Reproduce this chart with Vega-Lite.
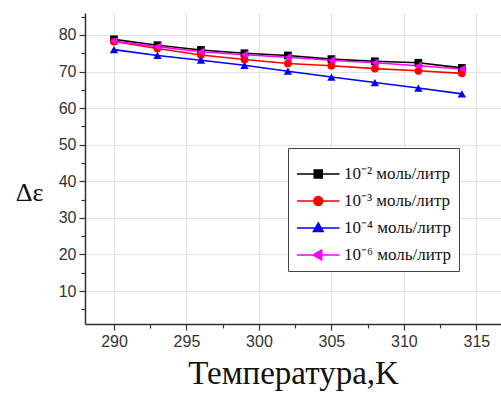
{
  "$schema": "https://vega.github.io/schema/vega-lite/v6.json",
  "width": 416,
  "height": 311,
  "autosize": "none",
  "padding": {"left": 85, "top": 13, "right": 0, "bottom": 72},
  "background": "white",
  "config": {
    "view": {"stroke": null},
    "axis": {"labelFont": "Liberation Sans", "labelFontSize": 16, "labelColor": "#333", "domainColor": "#333", "domainWidth": 1.5, "tickColor": "#333", "tickWidth": 1.2, "gridColor": "#e2e2e2", "gridWidth": 1}
  },
  "data": {"values": [
    {"T": 290, "c": "10⁻² моль/литр", "e": 78.8},
    {"T": 293, "c": "10⁻² моль/литр", "e": 77.2},
    {"T": 296, "c": "10⁻² моль/литр", "e": 75.9},
    {"T": 299, "c": "10⁻² моль/литр", "e": 75.0},
    {"T": 302, "c": "10⁻² моль/литр", "e": 74.4},
    {"T": 305, "c": "10⁻² моль/литр", "e": 73.4},
    {"T": 308, "c": "10⁻² моль/литр", "e": 72.8},
    {"T": 311, "c": "10⁻² моль/литр", "e": 72.4},
    {"T": 314, "c": "10⁻² моль/литр", "e": 71.0},
    {"T": 290, "c": "10⁻³ моль/литр", "e": 78.2},
    {"T": 293, "c": "10⁻³ моль/литр", "e": 76.3},
    {"T": 296, "c": "10⁻³ моль/литр", "e": 74.5},
    {"T": 299, "c": "10⁻³ моль/литр", "e": 73.3},
    {"T": 302, "c": "10⁻³ моль/литр", "e": 72.2},
    {"T": 305, "c": "10⁻³ моль/литр", "e": 71.6},
    {"T": 308, "c": "10⁻³ моль/литр", "e": 70.8},
    {"T": 311, "c": "10⁻³ моль/литр", "e": 70.2},
    {"T": 314, "c": "10⁻³ моль/литр", "e": 69.5},
    {"T": 290, "c": "10⁻⁴ моль/литр", "e": 76.0},
    {"T": 293, "c": "10⁻⁴ моль/литр", "e": 74.4},
    {"T": 296, "c": "10⁻⁴ моль/литр", "e": 73.1},
    {"T": 299, "c": "10⁻⁴ моль/литр", "e": 71.7},
    {"T": 302, "c": "10⁻⁴ моль/литр", "e": 70.1},
    {"T": 305, "c": "10⁻⁴ моль/литр", "e": 68.5},
    {"T": 308, "c": "10⁻⁴ моль/литр", "e": 67.0},
    {"T": 311, "c": "10⁻⁴ моль/литр", "e": 65.5},
    {"T": 314, "c": "10⁻⁴ моль/литр", "e": 63.9},
    {"T": 290, "c": "10⁻⁶ моль/литр", "e": 78.3},
    {"T": 293, "c": "10⁻⁶ моль/литр", "e": 76.8},
    {"T": 296, "c": "10⁻⁶ моль/литр", "e": 75.4},
    {"T": 299, "c": "10⁻⁶ моль/литр", "e": 74.6},
    {"T": 302, "c": "10⁻⁶ моль/литр", "e": 73.9},
    {"T": 305, "c": "10⁻⁶ моль/литр", "e": 73.1},
    {"T": 308, "c": "10⁻⁶ моль/литр", "e": 72.4},
    {"T": 311, "c": "10⁻⁶ моль/литр", "e": 71.6},
    {"T": 314, "c": "10⁻⁶ моль/литр", "e": 70.7}
  ]},
  "encoding": {
    "x": {"field": "T", "type": "quantitative", "scale": {"domain": [288, 316.7], "nice": false, "zero": false}, "axis": null},
    "y": {"field": "e", "type": "quantitative", "scale": {"domain": [1, 86], "nice": false, "zero": false}, "axis": null},
    "color": {
      "field": "c", "type": "nominal",
      "scale": {"domain": ["10⁻² моль/литр", "10⁻³ моль/литр", "10⁻⁴ моль/литр", "10⁻⁶ моль/литр"], "range": ["#000000", "#ff0000", "#0000ff", "#ff00ff"]},
      "legend": {
        "title": null, "orient": "none", "legendX": 203, "legendY": 135,
        "padding": 8, "strokeColor": "#444", "fillColor": "white",
        "labelFont": "Liberation Serif", "labelFontSize": 17, "labelColor": "#111", "labelOffset": 12,
        "symbolSize": 1156, "rowPadding": 1,
        "encode": {"symbols": {"update": {
          "shape": {"signal": "['M-1,0H1.5M0.015,-0.235H0.485V0.235H0.015Z','M-1,0H1.5M-0.015,0A0.265,0.265,0,1,1,0.515,0A0.265,0.265,0,1,1,-0.015,0Z','M-1,0H1.5M0.25,-0.3L0.54,0.2H-0.04Z','M-1,0H1.5M-0.05,0L0.45,-0.29V0.29Z'][indexof(domain('color'), datum.value)]"},
          "stroke": {"signal": "scale('color', datum.value)"},
          "fill": {"signal": "scale('color', datum.value)"},
          "strokeWidth": {"value": 1.5},
          "opacity": {"value": 1}
        }}}
      }
    }
  },
  "layer": [
    {
      "mark": {"type": "line", "strokeWidth": 1.6},
      "encoding": {
        "x": {"field": "T", "type": "quantitative",
          "axis": {"values": [290, 295, 300, 305, 310, 315], "title": "Температура,K", "titleFont": "Liberation Serif", "titleFontSize": 33, "titleFontWeight": "normal", "titleColor": "#111", "titleY": 59, "titleBaseline": "alphabetic", "tickSize": 6, "labelPadding": 3, "grid": true}},
        "y": {"field": "e", "type": "quantitative",
          "axis": {"values": [10, 20, 30, 40, 50, 60, 70, 80], "title": "Δε", "titleFont": "Liberation Serif", "titleFontSize": 26, "titleFontWeight": "normal", "titleColor": "#111", "titleAngle": 0, "titleX": -56, "titleY": 179, "titleAlign": "center", "titleBaseline": "middle", "tickSize": 6, "labelPadding": 3, "grid": true}}
      }
    },
    {
      "transform": [{"filter": "datum.c === '10⁻² моль/литр'"}],
      "mark": {"type": "point", "filled": true, "size": 60, "opacity": 1, "shape": "square"},
      "encoding": {
        "x": {"field": "T", "type": "quantitative",
          "axis": {"orient": "bottom", "values": [292.5, 297.5, 302.5, 307.5, 312.5], "labels": false, "grid": false, "domain": false, "tickSize": 4, "title": null}},
        "y": {"field": "e", "type": "quantitative",
          "axis": {"orient": "left", "values": [5, 15, 25, 35, 45, 55, 65, 75, 85], "labels": false, "grid": false, "domain": false, "tickSize": 4, "title": null}}
      }
    },
    {
      "transform": [{"filter": "datum.c === '10⁻³ моль/литр'"}],
      "mark": {"type": "point", "filled": true, "size": 60, "opacity": 1, "shape": "circle"}
    },
    {
      "transform": [{"filter": "datum.c === '10⁻⁴ моль/литр'"}],
      "mark": {"type": "point", "filled": true, "size": 70, "opacity": 1, "shape": "triangle-up"}
    },
    {
      "transform": [{"filter": "datum.c === '10⁻⁶ моль/литр'"}],
      "mark": {"type": "point", "filled": true, "size": 70, "opacity": 1, "shape": "triangle-left"}
    }
  ],
  "resolve": {"axis": {"x": "independent", "y": "independent"}}
}
